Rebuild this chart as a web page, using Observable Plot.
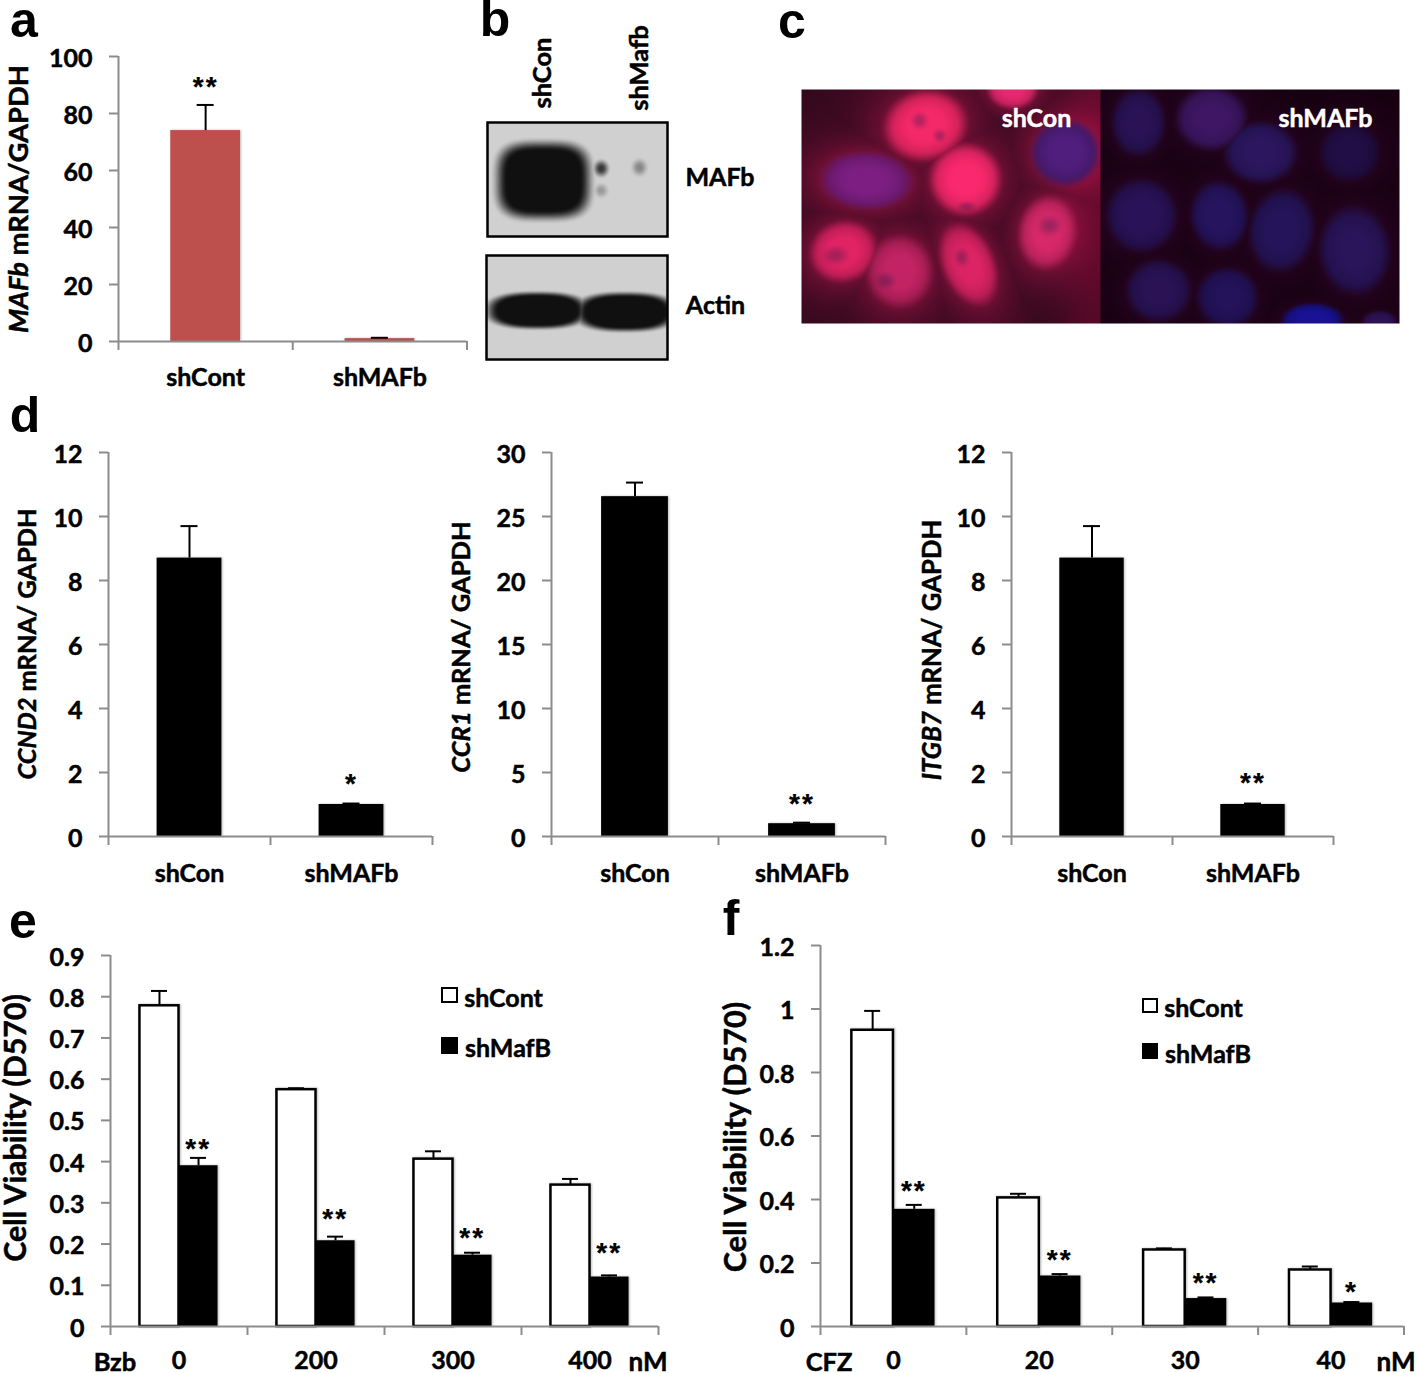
<!DOCTYPE html>
<html><head><meta charset="utf-8">
<script src="https://cdn.jsdelivr.net/npm/d3@7"></script>
<script src="https://cdn.jsdelivr.net/npm/@observablehq/plot@0.6"></script>
<style>
html,body{margin:0;padding:0;background:#fff}
#page{position:relative;width:1418px;height:1373px;overflow:hidden;background:#fff;font-family:Lato,sans-serif;font-weight:700;color:#000}
.lab{position:absolute;white-space:nowrap;line-height:.8;transform:translate(-50%,-50%);-webkit-text-stroke:.5px currentColor}
.lab.v{transform:translate(-50%,-50%) rotate(-90deg)}
.lab.letter{-webkit-text-stroke:0;line-height:.7}
.key{position:absolute;box-sizing:border-box;border:2.5px solid #000}
#page svg text{stroke:#000;stroke-width:.5px}
#page svg.img text{stroke:#fff}
#page svg g[aria-label="text"] text{letter-spacing:2px;stroke-width:.2px}
#page svg.img g[aria-label="text"] text{letter-spacing:0;stroke-width:.5px}
#page svg g[aria-label="rect"]{filter:drop-shadow(1.5px 0 1.2px rgba(0,0,0,.28))}
</style></head><body><div id="page"></div>
<script>
// ---- panel a
const aCats = ["shCont", "shMAFb"];
const aValues = [74, 1];
const aTops = [83, 1.3];
const aStars = ["**", ""];
const aStarAt = [90.5, 0];
const aTicks = [0, 20, 40, 60, 80, 100];
// ---- panel d
const dCats1 = ["shCon", "shMAFb"];
const ccnd2Values = [8.7, 1.0];
const ccnd2Tops = [9.7, 1.03];
const ccnd2Stars = ["", "*"];
const ccnd2StarAt = [0, 1.72];
const ccr1Values = [26.55, 1.0];
const ccr1Tops = [27.65, 1.08];
const ccr1Stars = ["", "**"];
const ccr1StarAt = [0, 2.8];
const itgb7Values = [8.7, 1.0];
const itgb7Tops = [9.7, 1.03];
const itgb7Stars = ["", "**"];
const itgb7StarAt = [0, 1.75];
const ticks12 = [0, 2, 4, 6, 8, 10, 12];
const ticks30 = [0, 5, 10, 15, 20, 25, 30];
// ---- panel e
const eDoses = ["0", "200", "300", "400"];
const eCont = [0.778, 0.5745, 0.406, 0.343];
const eContTops = [0.814, 0.578, 0.425, 0.358];
const eMaf = [0.39, 0.208, 0.173, 0.12];
const eMafTops = [0.409, 0.218, 0.179, 0.124];
const eStars = ["**", "**", "**", "**"];
const eStarAt = [0.438, 0.269, 0.222, 0.186];
const eTicks = [0, 0.1, 0.2, 0.3, 0.4, 0.5, 0.6, 0.7, 0.8, 0.9];
// ---- panel f
const fDoses = ["0", "20", "30", "40"];
const fCont = [0.933, 0.405, 0.241, 0.178];
const fContTops = [0.994, 0.418, 0.246, 0.189];
const fMaf = [0.369, 0.159, 0.088, 0.074];
const fMafTops = [0.383, 0.165, 0.0915, 0.077];
const fStars = ["**", "**", "**", "*"];
const fStarAt = [0.437, 0.22, 0.147, 0.119];
const fTicks = [0, 0.2, 0.4, 0.6, 0.8, 1, 1.2];
// ---- panel b: blot bands [cx, cy, rx, ry, squareness, darkness]
const mafbBands = [[543,180,44,36,3.4,1],[600.7,168,10,11,2,0.8],[600.7,190,9,9,2,0.28],[639,167,10,11,2,0.38]];
const actinBands = [[537,310,47,17,2.5,1],[625,311.5,47,18,2.5,1],[672,311,8,13,2,0.9]];
// ---- panel c: nuclei [cx, cy, rx, ry, tilt, r, g, b]
const nuclei = [
 [925,125,43,36,-0.2,245,40,105],[965,179,37,37,0.1,250,40,110],[866,180,48,30,0.05,125,30,130],
 [1065,152,36,35,0,80,30,125],[1047,232,30,38,0.15,215,40,105],[843,251,35,31,-0.3,225,35,100],
 [899,271,34,37,0,195,35,100],[968,264,27,44,-0.4,220,35,100],[1012,88,26,21,0,230,40,110],
 [1138,122,28,35,0,42,18,85],[1211,118,37,33,0,62,22,100],[1260,152,38,32,0,44,22,95],
 [1349,152,31,30,0,34,14,70],[1141,215,37,38,0,42,18,88],[1219,215,30,36,-0.1,38,20,95],
 [1281,230,34,43,0.15,38,20,90],[1354,250,37,46,-0.1,42,20,90],[1158,290,34,32,0,42,18,85],
 [1227,297,32,31,0,36,18,90],[1312,320,32,18,0,25,18,150],[1379,321,18,11,0,45,18,85]];
const nucleoli = [[919,120,10,10],[939,135,8,8],[966,206,11,6],[961,257,9,11],[885,280,12,10],[1049,225,14,12],[835,255,15,11]];
const imageLabels = ["shCon", "shMAFb"];

const page = document.getElementById("page");
const GREY = "#8c8c8c";
const SVGSTYLE = {fontFamily:"Lato,sans-serif",fontWeight:700,fontSize:"25px",background:"transparent",overflow:"visible"};

function label(html, cx, cy, size, opts = {}) {
  const d = document.createElement("div");
  d.className = "lab" + (opts.v ? " v" : "") + (opts.font ? " letter" : "");
  d.innerHTML = html;
  d.style.left = cx + "px"; d.style.top = cy + "px"; d.style.fontSize = size + "px";
  if (opts.font) d.style.fontFamily = opts.font;
  page.appendChild(d);
}
function key(x, y, w, h, fill) {
  const d = document.createElement("div");
  d.className = "key";
  Object.assign(d.style, {left:x+"px", top:y+"px", width:w+"px", height:h+"px", background:fill});
  page.appendChild(d);
}
function place(svg, left, top) {
  svg.style.position = "absolute"; svg.style.left = left + "px"; svg.style.top = top + "px"; svg.style.maxWidth = "none";
  page.appendChild(svg);
}
function rows(cats, series) {
  // one row per bar; x is in units of category slots
  const out = [];
  series.forEach(s => cats.forEach((c, i) => out.push({
    cat:c, x1:i+s.from, x2:i+s.to, mid:i+(s.from+s.to)/2, value:s.values[i], top:s.tops[i], fill:s.fill, stroke:s.stroke||"none", sw:s.sw||0
  })));
  return out;
}
function chart({x0, x1, yZero, yTop, maxY, ticks, cats, series, starRows, capPx = 17, errW = 2, catPad = 27}) {
  const L = x0 - 80, T = yTop - 20, B = Math.min(yZero + 60, 1373), W = Math.min(x1 - L + 14, 1418 - L);
  const step = (x1 - x0) / cats.length, cap = capPx / 2 / step;
  const data = rows(cats, series);
  const slots = d3.range(cats.length + 1), mids = d3.range(cats.length).map(i => i + 0.5);
  const svg = Plot.plot({
    width: W, height: B - T, style: SVGSTYLE,
    marginLeft: x0 - L, marginRight: L + W - x1, marginTop: yTop - T, marginBottom: B - yZero,
    x: {domain: [0, cats.length]}, y: {domain: [0, maxY]},
    marks: [
      Plot.rect(data, {x1:"x1", x2:"x2", y1:0, y2:"value", fill:"fill", stroke:"stroke", strokeWidth:"sw"}),
      Plot.ruleX(data, {x:"mid", y1:"value", y2:"top", stroke:"#000", strokeWidth:errW}),
      Plot.ruleY(data, {y:"top", x1:d=>d.mid-cap, x2:d=>d.mid+cap, stroke:"#000", strokeWidth:errW}),
      Plot.ruleX([0], {stroke:GREY, strokeWidth:2}),
      Plot.ruleY([0], {stroke:GREY, strokeWidth:2}),
      Plot.axisY({ticks, tickSize:9, stroke:GREY, strokeWidth:2, label:null, text:null}),
      Plot.axisY({ticks, tickFormat:d=>String(d), tickSize:0, tickPadding:26, dy:2, fill:"#000", label:null}),
      Plot.axisX({ticks:slots, tickFormat:null, tickSize:9, stroke:GREY, strokeWidth:2, label:null, text:null}),
      Plot.axisX({ticks:mids, tickFormat:d=>cats[d-0.5], tickSize:0, tickPadding:catPad, fill:"#000", label:null}),
      Plot.text(starRows, {x:"x", y:"y", text:"t", fontSize:28, fill:"#000", dy:3, fontFamily:"Liberation Sans"})
    ]
  });
  place(svg, L, T);
}
const single = (values, tops, fill) => [{values, tops, fill, from:0.3, to:0.7}];
const starRows = (stars, at, off) => stars.map((t,i)=>({x:i+off, y:at[i], t})).filter(d=>d.t);

// ---- charts
chart({x0:117.5,x1:466,yZero:341,yTop:56,maxY:100,ticks:aTicks,cats:aCats,series:single(aValues,aTops,"#bd4f4c"),starRows:starRows(aStars,aStarAt,0.5)});
chart({x0:108,x1:432,yZero:836,yTop:452,maxY:12,ticks:ticks12,cats:dCats1,series:single(ccnd2Values,ccnd2Tops,"#000"),starRows:starRows(ccnd2Stars,ccnd2StarAt,0.5),catPad:28});
chart({x0:551,x1:885,yZero:836,yTop:452,maxY:30,ticks:ticks30,cats:dCats1,series:single(ccr1Values,ccr1Tops,"#000"),starRows:starRows(ccr1Stars,ccr1StarAt,0.5),catPad:28});
chart({x0:1011,x1:1333,yZero:836,yTop:452,maxY:12,ticks:ticks12,cats:dCats1,series:single(itgb7Values,itgb7Tops,"#000"),starRows:starRows(itgb7Stars,itgb7StarAt,0.5),catPad:28});
const pair = (a,at,b,bt,w) => [
  {values:a,tops:at,fill:"#fff",stroke:"#000",sw:2.5,from:0.5-w,to:0.5},
  {values:b,tops:bt,fill:"#000",from:0.5,to:0.5+w}];
chart({x0:110,x1:658,yZero:1326,yTop:955,maxY:0.9,ticks:eTicks,cats:eDoses,series:pair(eCont,eContTops,eMaf,eMafTops,0.285),starRows:starRows(eStars,eStarAt,0.64),capPx:16,catPad:25});
chart({x0:820,x1:1403.5,yZero:1326,yTop:945,maxY:1.2,ticks:fTicks,cats:fDoses,series:pair(fCont,fContTops,fMaf,fMafTops,0.285),starRows:starRows(fStars,fStarAt,0.64),capPx:16,catPad:25});

// ---- shading helpers for the two pictures
const smooth = (a,b,v) => { const t=Math.max(0,Math.min(1,(v-a)/(b-a))); return t*t*(3-2*t); };
function bandDark(bands, x, y) {
  let k = 0;
  for (const [cx,cy,rx,ry,p,dark] of bands) {
    const d = Math.pow(Math.pow(Math.abs(x-cx)/rx,p)+Math.pow(Math.abs(y-cy)/ry,p),1/p);
    const f = rx < 15 ? 1-smooth(0.1,1,d) : 1-smooth(0.82,1.22,d);
    k = Math.max(k, dark*f);
  }
  return k;
}
function blot(left, top, width, height, bands) {
  const svg = Plot.plot({
    width, height, margin:0, style:SVGSTYLE,
    x:{domain:[left,left+width],axis:null}, y:{domain:[top+height,top],axis:null},
    marks:[
      Plot.raster({x1:left,x2:left+width,y1:top,y2:top+height,pixelSize:1,fill:(x,y)=>{
        const g = Math.round(208-192*bandDark(bands,x,y)); return `rgb(${g},${g},${g})`;}}),
      Plot.frame({stroke:"#000",strokeWidth:2.5})
    ]
  });
  place(svg,left,top);
}
blot(487,122,180,114,mafbBands);
blot(486,255,181,104,actinBands);
function nucleusField(x,y,n){
  const [cx,cy,rx,ry,t]=n, c=Math.cos(t), s=Math.sin(t);
  const u=((x-cx)*c+(y-cy)*s)/rx, v=(-(x-cx)*s+(y-cy)*c)/ry;
  return Math.sqrt(u*u+v*v);
}
const micro = Plot.plot({
  width:598,height:234,margin:0,style:SVGSTYLE,
  x:{domain:[801,1399],axis:null},y:{domain:[323,89],axis:null},
  marks:[
    Plot.raster({x1:801,x2:1399,y1:89,y2:323,pixelSize:1,fill:(x,y)=>{
      const left=x<1100;
      let glow=0,R,G,B,best=0,col=null;
      for(const n of nuclei){
        if((n[0]<1100)!==left) continue;
        const d=nucleusField(x,y,n);
        glow=Math.max(glow,Math.exp(-Math.max(0,d-0.9)*1.4));
        const f=1-smooth(0.72,1.08,d);
        if(f>best){best=f;col=[n[5],n[6],n[7],d];}
      }
      const edge=left?smooth(1040,1100,x):0;
      R=left?48+glow*70+edge*35:20+glow*16; G=left?8+glow*8:0+glow*3; B=left?28+glow*26+edge*10:14+glow*16;
      if(col){
        const sh=1-0.2*smooth(0.35,1,col[3]);
        R+=best*(col[0]*sh-R);G+=best*(col[1]*sh-G);B+=best*(col[2]*sh-B);
      }
      if(left) for(const [cx,cy,rx,ry] of nucleoli){
        const d=Math.hypot((x-cx)/rx,(y-cy)/ry);
        const k=0.26*(1-smooth(0.1,1.1,d)); R*=1-k;G*=1-k*0.4;B*=1-k*0.4;
      }
      return `rgb(${Math.round(Math.min(255,R))},${Math.round(G)},${Math.round(B)})`;
    }}),
    Plot.text(imageLabels,{x:[1036,1325],y:[118,118],text:d=>d,fill:"#fff",fontSize:25})
  ]
});
micro.classList.add("img");
place(micro,801,89);

// ---- labels
const LETTER="Liberation Sans";
label("a",24,20,50,{font:LETTER});
label("b",495,19,50,{font:LETTER});
label("c",792,21,50,{font:LETTER});
label("d",25,415,50,{font:LETTER});
label("e",23,921,50,{font:LETTER});
label("f",731,918,50,{font:LETTER});
label("<i>MAFb</i> mRNA/GAPDH",18,199,27.4,{v:true});
label("<i>CCND2</i> mRNA/ GAPDH",26,644,25.4,{v:true});
label("<i>CCR1</i> mRNA/ GAPDH",460,647,25.5,{v:true});
label("<i>ITGB7</i> mRNA/ GAPDH",931,650,25.7,{v:true});
label("Cell Viability (D570)",14,1128,30.3,{v:true});
label("Cell Viability (D570)",735,1137,30.6,{v:true});
label("shCon",541,73,25.5,{v:true});
label("shMafb",638,67.5,25.5,{v:true});
label("MAFb",720,176,25);
label("Actin",715.5,304,25);
label("Bzb",115,1361,25.5);
label("nM",648,1361,26);
label("CFZ",829,1361,25.5);
label("nM",1396,1361,26);
key(441,987,17,16,"#fff"); key(441,1037,17,17,"#000");
label("shCont",503.5,997,25); label("shMafB",508,1047,25);
key(1142,998,16,15,"#fff"); key(1142,1043,16,16,"#000");
label("shCont",1203.5,1007,25); label("shMafB",1208,1053,25);
</script></body></html>
